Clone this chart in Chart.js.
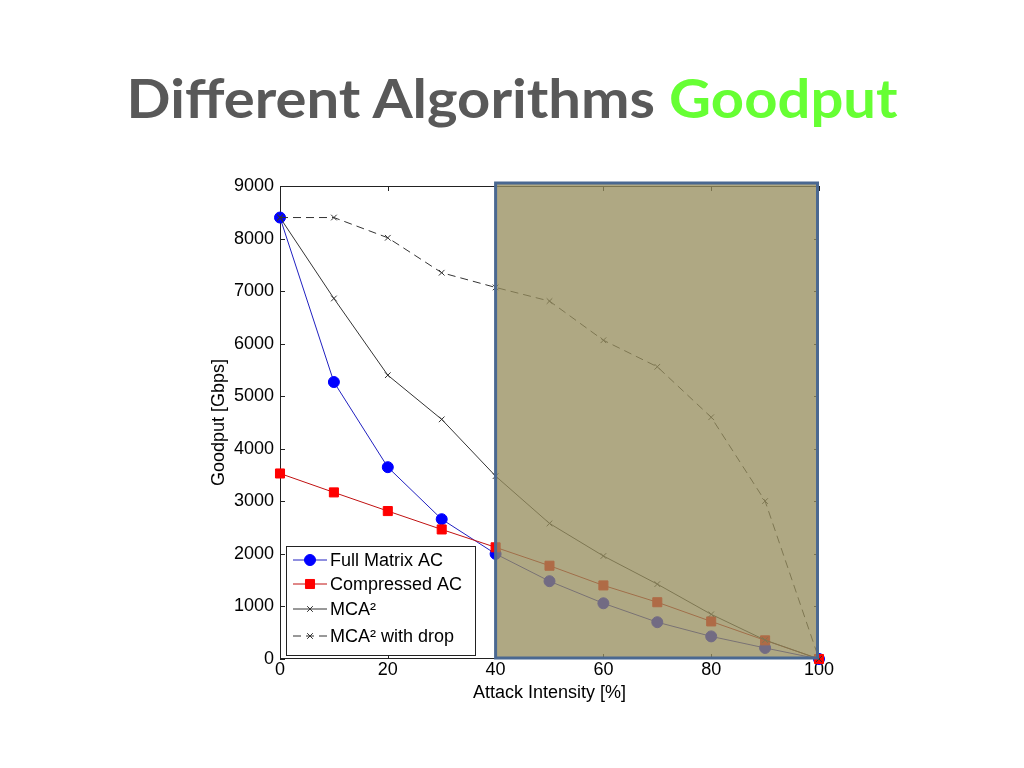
<!DOCTYPE html>
<html>
<head>
<meta charset="utf-8">
<script src="https://cdn.jsdelivr.net/npm/chart.js@4/dist/chart.umd.min.js"></script>
<style>
  html, body { margin: 0; padding: 0; background: #ffffff; width: 1024px; height: 768px; overflow: hidden; }
  #wrap { position: relative; width: 1024px; height: 768px; }
  #title { position: absolute; left: 0; top: 71px; width: 1024px; text-align: center; white-space: nowrap;
           font-family: Lato, "Open Sans", sans-serif; font-weight: 700; font-size: 54px; line-height: 54px; color: #595959; }
  #title span.inner { display: inline-block; transform-origin: center; }
  #title .hl { color: #66FF33; }
  canvas { position: absolute; left: 0; top: 0; }
</style>
</head>
<body>
<div id="wrap">
  <canvas id="c" width="1024" height="768"></canvas>
  <div id="title"><span class="inner" id="titleInner">Different Algorithms <span class="hl">Goodput</span></span></div>
</div>
<script>
// ---- data ----
const attackIntensity = [0, 10, 20, 30, 40, 50, 60, 70, 80, 90, 100];
const fullMatrixAC   = [8400, 5270, 3650, 2660, 2000, 1480, 1060, 700, 430, 210, 0];
const compressedAC   = [3530, 3170, 2815, 2465, 2125, 1775, 1400, 1080, 715, 355, 0];
const mca2           = [8400, 6860, 5400, 4560, 3480, 2580, 1960, 1425, 850, 360, 0];
const mca2WithDrop   = [8400, 8400, 8015, 7350, 7070, 6810, 6065, 5560, 4600, 3005, 0];
const seriesNames    = ['Full Matrix AC', 'Compressed AC', 'MCA\u00B2', 'MCA\u00B2 with drop'];
const xTicks         = [0, 20, 40, 60, 80, 100];
const yTicks         = [0, 1000, 2000, 3000, 4000, 5000, 6000, 7000, 8000, 9000];
const shadedRange    = [40, 100];

// fit title width
(function(){
  const el = document.getElementById('titleInner');
  const w = el.getBoundingClientRect().width;
  el.style.transform = 'scaleX(' + (771 / w) + ')';
})();

const FONT = '"Liberation Sans", Arial, sans-serif';
const pts = arr => arr.map((v, i) => ({ x: attackIntensity[i], y: v }));

const frameTicks = {
  id: 'frameTicks',
  beforeDatasetsDraw(chart) {
    const { ctx, chartArea: a, scales: { x, y } } = chart;
    ctx.save();
    ctx.strokeStyle = '#222';
    ctx.lineWidth = 1;
    ctx.strokeRect(a.left + 0.5, a.top + 0.5, a.right - a.left - 1, a.bottom - a.top - 1);
    ctx.beginPath();
    xTicks.forEach(v => {
      const px = Math.round(x.getPixelForValue(v)) + 0.5;
      ctx.moveTo(px, a.bottom); ctx.lineTo(px, a.bottom - 5);
      ctx.moveTo(px, a.top); ctx.lineTo(px, a.top + 5);
    });
    yTicks.forEach(v => {
      const py = Math.round(y.getPixelForValue(v)) + 0.5;
      ctx.moveTo(a.left, py); ctx.lineTo(a.left + 5, py);
      ctx.moveTo(a.right, py); ctx.lineTo(a.right - 5, py);
    });
    ctx.stroke();
    ctx.restore();
  }
};

const shade = {
  id: 'shade',
  afterDatasetsDraw(chart) {
    const { ctx, chartArea: a, scales: { x } } = chart;
    const l = x.getPixelForValue(shadedRange[0]);
    const r = x.getPixelForValue(shadedRange[1]) - 1.5;
    const t = a.top - 3, b = a.bottom - 1;
    ctx.save();
    ctx.fillStyle = 'rgba(150,140,92,0.76)';
    ctx.fillRect(l, t, r - l, b - t);
    ctx.strokeStyle = '#4A6891';
    ctx.lineWidth = 3;
    ctx.strokeRect(l, t, r - l, b - t);
    ctx.restore();
  }
};

const boxLegend = {
  id: 'boxLegend',
  afterDraw(chart) {
    const { ctx, chartArea: a } = chart;
    const bx = a.left + 6, by = a.bottom - 113, bw = 189, bh = 109;
    ctx.save();
    ctx.fillStyle = '#fff';
    ctx.fillRect(bx, by, bw, bh);
    ctx.strokeStyle = '#222';
    ctx.lineWidth = 1;
    ctx.strokeRect(bx + 0.5, by + 0.5, bw, bh);
    const rows = [by + 14, by + 38, by + 63, by + 90];
    const x0 = bx + 7, x1 = bx + 41, xm = (x0 + x1) / 2;
    chart.data.datasets.forEach((ds, i) => {
      const yy = rows[i];
      ctx.strokeStyle = ds.borderColor;
      ctx.lineWidth = 1;
      ctx.setLineDash(ds.borderDash || []);
      ctx.beginPath(); ctx.moveTo(x0, yy); ctx.lineTo(x1, yy); ctx.stroke();
      ctx.setLineDash([]);
      ctx.fillStyle = ds.pointBackgroundColor;
      ctx.strokeStyle = ds.pointBorderColor;
      Chart.helpers.drawPoint(ctx, { pointStyle: ds.pointStyle, radius: ds.pointRadius, borderWidth: 1 }, xm, yy);
      ctx.fillStyle = '#000';
      ctx.font = '18px ' + FONT;
      ctx.textBaseline = 'middle';
      ctx.textAlign = 'left';
      ctx.fillText(ds.label, x1 + 3, yy + 1);
    });
    ctx.restore();
  }
};

new Chart(document.getElementById('c'), {
  type: 'line',
  data: {
    datasets: [
      { label: seriesNames[0], data: pts(fullMatrixAC), borderColor: '#2020c0', borderWidth: 1, order: 4,
        pointStyle: 'circle', pointRadius: 5.5, pointBackgroundColor: '#0000ff', pointBorderColor: '#0000ff', clip: false },
      { label: seriesNames[1], data: pts(compressedAC), borderColor: '#c01010', borderWidth: 1, order: 3,
        pointStyle: 'rect', pointRadius: 6.4, pointBackgroundColor: '#ff0000', pointBorderColor: '#ff0000', clip: false },
      { label: seriesNames[2], data: pts(mca2), borderColor: '#333333', borderWidth: 1, order: 2,
        pointStyle: 'crossRot', pointRadius: 4, pointBackgroundColor: '#333333', pointBorderColor: '#333333', clip: false },
      { label: seriesNames[3], data: pts(mca2WithDrop), borderColor: '#333333', borderWidth: 1, borderDash: [8, 5], order: 1,
        pointStyle: 'crossRot', pointRadius: 4, pointBackgroundColor: '#333333', pointBorderColor: '#333333', clip: false }
    ]
  },
  options: {
    responsive: false,
    animation: false,
    layout: { padding: { left: 200, top: 186, right: 205, bottom: 59 } },
    plugins: { legend: { display: false }, tooltip: { enabled: false }, title: { display: false } },
    elements: { line: { tension: 0 } },
    scales: {
      x: {
        type: 'linear', min: 0, max: 100,
        afterFit(s) { s.height = 50; },
        afterBuildTicks(s) { s.ticks = xTicks.map(v => ({ value: v })); },
        grid: { display: false, drawTicks: false },
        border: { display: false },
        ticks: { color: '#000', font: { family: FONT, size: 18 }, padding: 0, maxRotation: 0, autoSkip: false,
                 callback: v => String(v) },
        title: { display: true, text: 'Attack Intensity [%]', color: '#000', font: { family: FONT, size: 18 }, padding: { top: 0, bottom: 5 } }
      },
      y: {
        type: 'linear', min: 0, max: 9000,
        afterFit(s) { s.width = 80; },
        afterBuildTicks(s) { s.ticks = yTicks.map(v => ({ value: v })); },
        grid: { display: false, drawTicks: false },
        border: { display: false },
        ticks: { color: '#000', font: { family: FONT, size: 18 }, padding: 6, autoSkip: false,
                 callback: v => String(v) },
        title: { display: true, text: 'Goodput [Gbps]', color: '#000', font: { family: FONT, size: 18 }, padding: { top: 8, bottom: 0 } }
      }
    }
  },
  plugins: [frameTicks, shade, boxLegend]
});
</script>
</body>
</html>
